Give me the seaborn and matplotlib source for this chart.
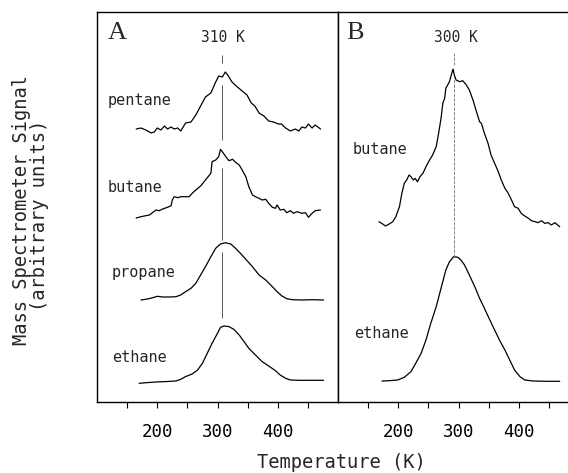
import numpy as np
import pandas as pd
import matplotlib
matplotlib.use("Agg")
import matplotlib.pyplot as plt
import seaborn as sns
from matplotlib.ticker import FixedLocator

# temperature (K) and signal above each trace's own baseline (arbitrary units)
pentane_t = [165, 173, 181, 190, 195, 200, 206, 212, 217, 223, 228, 234, 239, 247, 256, 264, 272, 280, 289, 297,
             302, 308, 313, 318, 324, 333, 341, 349, 356, 362, 369, 377, 385, 393, 401, 406, 413, 421, 429, 435,
             440, 446, 451, 457, 462, 471]
pentane_s = [1, 2, 0, -3, -2, 2, 0, 4, 1, 3, 1, 2, -1, 7, 8, 15, 24, 33, 37, 48,
             54, 53, 58, 54, 48, 43, 39, 35, 27, 24, 17, 14, 9, 8, 6, 6, 2, -1, 1, -1,
             3, 2, 6, 2, 5, 1]

butaneA_t = [165, 173, 181, 187, 192, 198, 203, 209, 217, 223, 225, 228, 234, 239, 247, 253, 258, 264, 272, 280,
             289, 291, 297, 302, 305, 308, 313, 319, 325, 330, 336, 341, 347, 352, 358, 363, 369, 374, 380, 385,
             391, 396, 399, 404, 410, 415, 421, 426, 432, 440, 446, 451, 457, 462, 471]
butaneA_s = [0, 1.3, 2.3, 3, 5.3, 8, 7.3, 9, 10.7, 12.3, 18, 21.3, 20.3, 21.3, 21.3, 21.3, 24.7, 28, 32, 38,
             44.7, 56.3, 58, 61.3, 68.7, 66.3, 62, 57.3, 58.7, 55.7, 53, 48, 41.3, 31.3, 23, 21.3, 19.7, 18, 18.7, 14.7,
             10.7, 9.7, 13, 8, 8.7, 5.3, 7.3, 4.7, 6.3, 4.7, 5.3, 0.7, 4.7, 7.3, 8]

propane_t = [173, 184, 195, 200, 209, 220, 231, 239, 247, 256, 264, 272, 280, 289, 297, 305, 313, 322, 330, 338,
             347, 358, 369, 380, 391, 399, 407, 415, 424, 440, 457, 476]
propane_s = [0, 1, 2.7, 3.7, 3, 3, 3.3, 5, 8.3, 11.7, 16.7, 25, 33.3, 43.3, 51.7, 56, 57.3, 56, 51.7, 46.7,
             40.7, 33.3, 25, 20, 13.3, 8.3, 4, 1.3, 0.3, 0, 0.3, 0]

ethaneA_t = [170, 184, 198, 214, 231, 239, 247, 258, 267, 275, 283, 291, 300, 305, 311, 319, 327, 336, 344, 352,
             363, 374, 385, 396, 404, 413, 421, 435, 457, 476]
ethaneA_s = [0, 0.7, 1.3, 1.7, 2.3, 4, 6.7, 9.3, 13.3, 20, 30, 40, 50, 56, 57.3, 56.7, 54, 48.3, 41.7, 35,
             28.3, 21.7, 17.3, 12.7, 8.3, 5, 3.3, 3, 3, 3]

butaneB_t = [168, 174, 179, 185, 191, 196, 202, 206, 210, 214, 218, 221, 225, 228, 232, 236, 241, 246, 252, 257,
             263, 267, 271, 274, 277, 279, 282, 285, 288, 291, 293, 296, 302, 307, 313, 318, 324, 329, 335, 338,
             343, 349, 354, 360, 366, 371, 377, 382, 388, 393, 399, 404, 410, 416, 421, 427, 432, 438, 443, 449,
             454, 460, 468]
butaneB_s = [2.3, 0, -2, 0, 2.3, 7.3, 17.3, 30.7, 40.7, 44, 49, 47.3, 44, 45.7, 42.3, 47.3, 50.7, 57.3, 64, 69,
             77.3, 90.7, 105.7, 120.7, 125.7, 135.7, 139, 142.3, 149, 155, 149, 144, 142.3, 143.3, 139, 134, 124, 114, 102.3, 100.7,
             90.7, 80.7, 69, 60.7, 52.3, 44, 35.7, 31.3, 24, 17.3, 15.7, 10.7, 8, 5.7, 3.3, 2.3, 1.3, 3.3, 0.7, 1.3,
             -1, 1.3, -2.7]

ethaneB_t = [173, 185, 199, 210, 221, 229, 238, 246, 254, 263, 271, 279, 285, 292, 299, 304, 310, 318, 327, 335,
             343, 352, 360, 368, 377, 385, 393, 402, 410, 424, 446, 468]
ethaneB_s = [0, 0.3, 1, 3.7, 9.3, 17.7, 27.7, 41, 57.7, 74.3, 92.7, 111, 119.3, 124.3, 123.7, 121, 116, 106, 94.3, 82.7,
             72.7, 61, 51, 41, 31, 21, 11, 4.3, 1, 0, -0.3, -0.3]

# panel A: (label, temps, signal, baseline offset, label position)
panel_a = [("pentane", pentane_t, pentane_s, 272, (118, 302)),
           ("butane", butaneA_t, butaneA_s, 184, (118, 214)),
           ("propane", propane_t, propane_s, 102, (125, 130)),
           ("ethane", ethaneA_t, ethaneA_s, 18.7, (125, 45))]
panel_b = [("butane", butaneB_t, butaneB_s, 178, (125, 252)),
           ("ethane", ethaneB_t, ethaneB_s, 21, (126, 69))]

sns.set_style("ticks")
plt.rcParams['font.family'] = ['DejaVu Sans Mono', 'DejaVu Sans']

fig = plt.figure(figsize=(5.68, 4.73), dpi=100)
axA = fig.add_axes([97/568, 71/473, 241/568, 390/473])
axB = fig.add_axes([338/568, 71/473, 230/568, 390/473])


def draw(ax, curves):
    for name, t, s, base, (lx, ly) in curves:
        df = pd.DataFrame({'T': t, 'S': np.array(s) + base})
        sns.lineplot(data=df, x='T', y='S', ax=ax, color='black', lw=0.9,
                     estimator=None, sort=False)
        ax.text(lx, ly, name, fontsize=11, va='center', ha='left')


draw(axA, panel_a)
draw(axB, panel_b)

# peak markers
for y0, y1 in [(339, 347), (262, 317), (162, 234), (84, 150)]:
    axA.vlines(308, y0, y1, color='0.35', lw=0.7)
for y0, y1 in [(337, 349), (145, 325)]:
    axB.vlines(293, y0, y1, color='0.45', lw=0.6, linestyles=(0, (4, 1.5)))

axA.text(309, 365, "310 K", fontsize=10.5, ha='center', va='center')
axB.text(296, 365, "300 K", fontsize=10.5, ha='center', va='center')
axA.text(134, 369, "A", fontsize=19, ha='center', va='center',
         family='Liberation Serif', fontweight='light')
axB.text(128, 369, "B", fontsize=19, ha='center', va='center',
         family='Liberation Serif', fontweight='light')

axA.set_xlim(100, 500)
axB.set_xlim(100, 100 + 230/0.6025)
for ax in (axA, axB):
    ax.set_ylim(0, 390)
    ax.set_yticks([])
    ax.set_xlabel('')
    ax.set_ylabel('')
    ax.xaxis.set_major_locator(FixedLocator([200, 300, 400]))
    ax.xaxis.set_minor_locator(FixedLocator([150, 250, 350, 450]))
    ax.tick_params(axis='x', which='both', direction='out', length=4, width=0.8,
                   pad=11, labelsize=12.5, colors='black')
    for sp in ax.spines.values():
        sp.set_color('black')
        sp.set_linewidth(1.0)
axB.spines['right'].set_visible(False)

fig.text(341/568, 11/473, "Temperature (K)", fontsize=13.5, ha='center', va='center')
fig.text(22/568, 263/473, "Mass Spectrometer Signal", fontsize=13.5, rotation=90,
         ha='center', va='center')
fig.text(40/568, 258/473, "(arbitrary units)", fontsize=13.5, rotation=90,
         ha='center', va='center')

fig.savefig('out.png', dpi=100)
plt.close()
